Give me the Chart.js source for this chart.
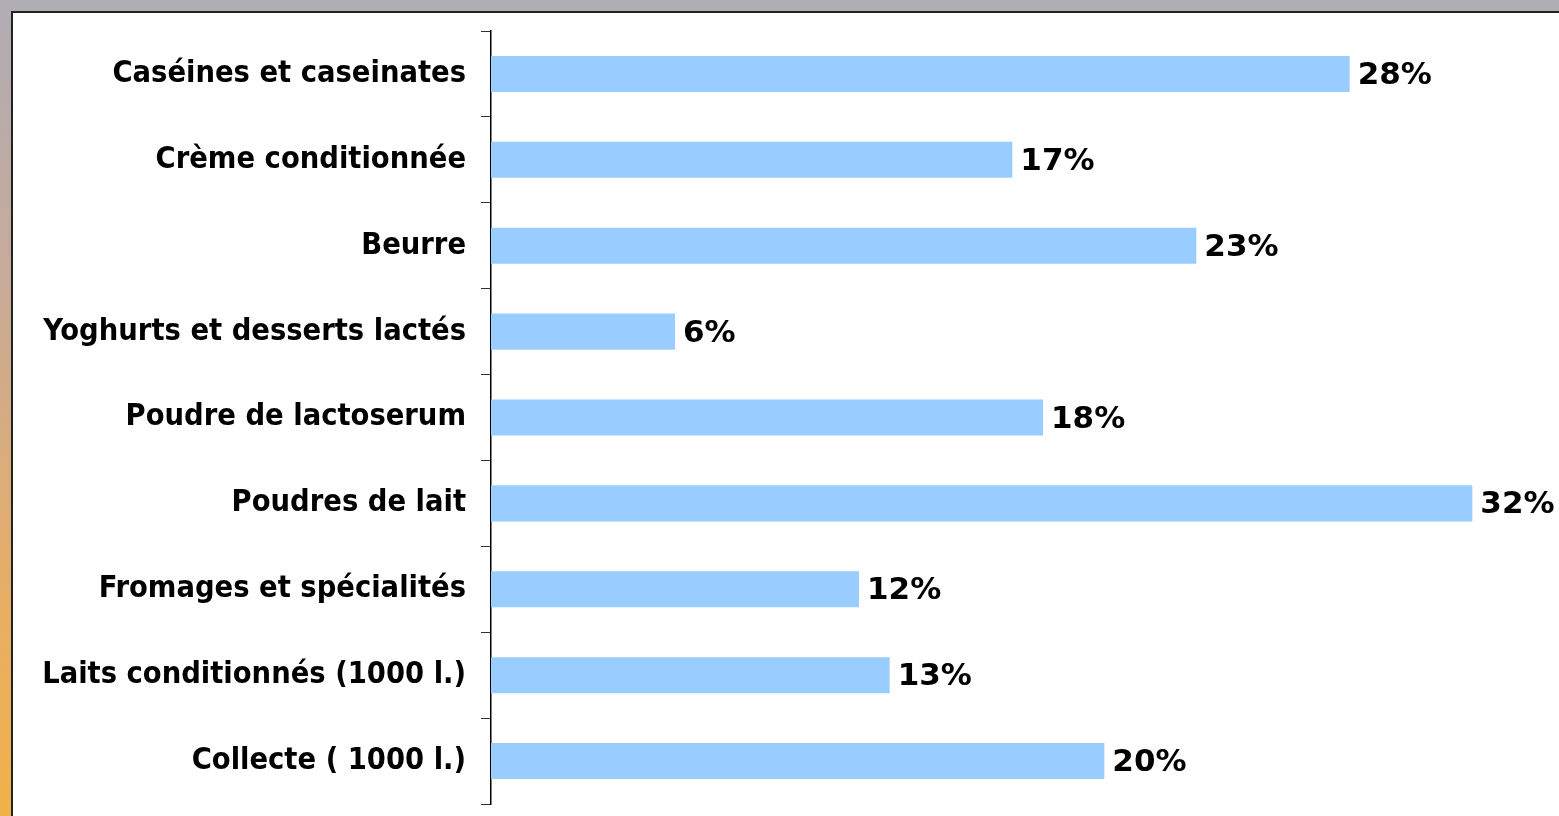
<!DOCTYPE html>
<html>
<head>
<meta charset="utf-8">
<script src="https://cdn.jsdelivr.net/npm/chart.js@4.4.1/dist/chart.umd.min.js"></script>
<style>
    html, body { margin: 0; padding: 0; }
    body {
        width: 1559px;
        height: 816px;
        overflow: hidden;
        position: relative;
        background: linear-gradient(to bottom, #b0adb5 0%, #c8aa98 35%, #e8ae62 75%, #f2b24a 100%);
    }
    #panel {
        position: absolute;
        left: 11px;
        top: 11px;
        width: 1560px;
        height: 820px;
        background: #fff;
        border-left: 2px solid #222;
        border-top: 2px solid #222;
    }
    #wrap {
        position: absolute;
        left: 0;
        top: 0;
        width: 1559px;
        height: 816px;
    }
</style>
</head>
<body>
<div id="panel"></div>
<div id="wrap"><canvas id="barChart"></canvas></div>
<script>
// categories top to bottom as drawn
const categories = [
    'Caséines et caseinates',
    'Crème conditionnée',
    'Beurre',
    'Yoghurts et desserts lactés',
    'Poudre de lactoserum',
    'Poudres de lait',
    'Fromages et spécialités',
    'Laits conditionnés (1000 l.)',
    'Collecte ( 1000 l.)'
];
const shares = [28, 17, 23, 6, 18, 32, 12, 13, 20]; // percent

const labelFont = { family: '"DejaVu Sans Condensed", "DejaVu Sans"', size: 30.5, weight: 'bold' };

// value labels at the end of each bar
const valueLabels = {
    id: 'valueLabels',
    afterDatasetsDraw(chart) {
        const ctx = chart.ctx;
        const meta = chart.getDatasetMeta(0);
        ctx.save();
        ctx.font = 'bold 31px "DejaVu Sans"';
        ctx.fillStyle = '#000';
        ctx.textAlign = 'left';
        ctx.textBaseline = 'middle';
        meta.data.forEach((bar, i) => {
            ctx.fillText(shares[i] + '%', bar.x + 8, bar.y + 2);
        });
        ctx.restore();
    }
};

const ctx = document.getElementById('barChart').getContext('2d');
new Chart(ctx, {
    type: 'bar',
    data: {
        labels: categories,
        datasets: [{
            data: shares,
            backgroundColor: '#99ccff',
            borderWidth: 0,
            categoryPercentage: 1,
            barPercentage: 0.42
        }]
    },
    options: {
        responsive: true,
        maintainAspectRatio: false,
        animation: false,
        indexAxis: 'y', // horizontal bars
        layout: { padding: { top: 31, bottom: 12, left: 0, right: 10 } },
        scales: {
            x: {
                display: false,
                min: 0,
                max: 34.5
            },
            y: {
                afterFit: scale => {
                    scale.width = 491;
                    // labels sit inside their bands, no extra room needed
                    scale.paddingTop = 0;
                    scale.paddingBottom = 0;
                },
                border: { display: true, color: '#000', width: 1.5 },
                grid: {
                    drawOnChartArea: false,
                    tickLength: 10,
                    color: '#333',
                    offset: true
                },
                ticks: {
                    padding: 15,
                    color: '#000',
                    font: labelFont
                }
            }
        },
        plugins: {
            legend: { display: false },
            tooltip: { enabled: false }
        }
    },
    plugins: [valueLabels]
});
</script>
</body>
</html>
